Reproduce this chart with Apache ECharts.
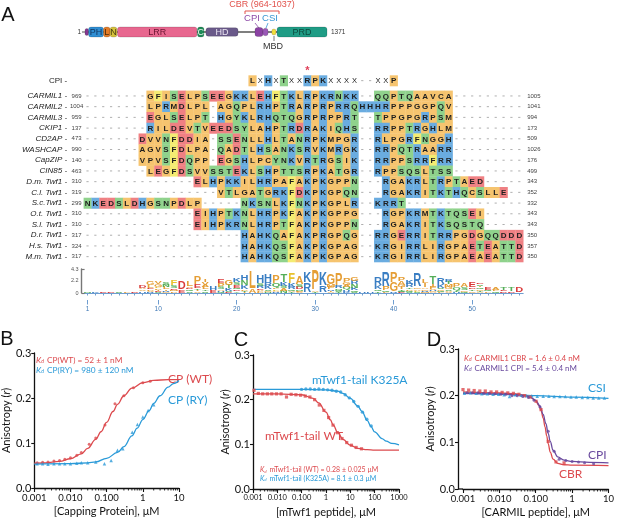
<!DOCTYPE html>
<html>
<head>
<meta charset="utf-8">
<script src="https://cdn.jsdelivr.net/npm/echarts@6/dist/echarts.min.js"></script>
<style>
  html, body { margin: 0; padding: 0; background: #fff; }
  #main { width: 617px; height: 519px; }
</style>
</head>
<body>
<div id="main"></div>
<script>
// ---------- A: domain map (schematic residue positions) ----------
const proteinLength = 1371;
const domainLabels = ['', 'PH', 'L', 'N', 'LRR', 'C', 'HD', 'CPI', 'CSI', 'MBD', 'PRD'];
const domainStart = [0, 20, 105, 142, 184, 637, 685, 963, 1008, 1058, 1088];
const domainEnd = [20, 105, 142, 181, 634, 674, 867, 1008, 1037, 1082, 1371];

// ---------- A: alignment ----------
const seqNames = ['CARMIL1', 'CARMIL2', 'CARMIL3', 'CKIP1', 'CD2AP', 'WASHCAP', 'CapZIP', 'CIN85',
  'D.m. Twf1', 'C.l. Twf1', 'S.c.Twf1', 'O.t. Twf1', 'S.l. Twf1', 'D.r. Twf1', 'H.s. Twf1', 'M.m. Twf1'];
const seqStartNum = [969, 1004, 959, 137, 473, 990, 140, 463, 310, 319, 299, 310, 310, 317, 324, 317];
const seqEndNum = [1005, 1041, 994, 173, 509, 1026, 176, 499, 343, 352, 332, 343, 343, 350, 357, 350];
const gap = n => '-'.repeat(n);
const seqRows = [
  gap(8) + 'GFISELPSEEGKKLEHFTKLRPKRNKK' + gap(2) + 'QQPTQAAVCA' + gap(9),
  gap(8) + 'LPRMDLPL' + gap(1) + 'AGQPLRHPTRARPRPRRQHHHRPPPGGPQV' + gap(9),
  gap(8) + 'EGLSELPT' + gap(1) + 'HGYKLRHQTQGRPRPPRT' + gap(2) + 'TPPGPGRPSM' + gap(9),
  gap(8) + 'RILDEVTVEEDSYLAHPTRDRAKIQHS' + gap(2) + 'RRPPTRGHLM' + gap(9),
  gap(7) + 'DVVNFDDIA' + gap(1) + 'SSENLLHLTANRPKMPGR' + gap(2) + 'RLPGRFNGGH' + gap(9),
  gap(7) + 'AGVSFDLPA' + gap(1) + 'QADTLHSANKSRVKMRGK' + gap(2) + 'RRPQTRAARR' + gap(9),
  gap(7) + 'VPVSFDQPP' + gap(1) + 'EGSHLPCYNKVRTRGSIK' + gap(2) + 'RRPPSRRFRR' + gap(9),
  gap(8) + 'LEGFDSVVSSTEKLSHPTTSRPKATGR' + gap(2) + 'RPPSQSLTSS' + gap(9),
  gap(14) + 'ELHPKKILHRPAFAKPKGPPN' + gap(3) + 'RGAKRLTRPTAED' + gap(5),
  gap(17) + 'VTLGATGRKFDKPKGPQN' + gap(3) + 'RGAKRITKTHQCSLLE' + gap(2),
  'NKEDSLDHGSNPDLP' + gap(5) + 'NKSNLKFNKPKGPLR' + gap(2) + 'KRRT' + gap(15),
  gap(14) + 'EIHPTKNLHRPKFAKPKGPPG' + gap(3) + 'RGPKRMTKTQSEI' + gap(5),
  gap(14) + 'EIHPKRNLHRPTFAKPKGPPN' + gap(3) + 'RGAKRITKSQSTQ' + gap(5),
  gap(20) + 'HAHKQAFAKPRGPQG' + gap(2) + 'RRGERRITRRPGDGQQDDD',
  gap(20) + 'HAHKQSFAKPKGPAG' + gap(2) + 'KRGIRRLIRGPAETEATTD',
  gap(20) + 'HAHKQSFAKPKGPAG' + gap(2) + 'KRGIRRLIRGPAEAEATTD'
];
const cpiMotif = ' '.repeat(21) + 'LXHXTXXRPKXXXX--XXP' + ' '.repeat(16);
const starCol = 29;

// sequence logo, per column: letter + height in bits (top to bottom)
const logoStacks = [
  'N.3', 'K.3', 'E.3', 'D.3', 'S.3', 'L.3', 'D.3', 'D.35 A.3 V.3 H.3',
  'G.6 L.4 E.25 P.25 V.2 R.2', 'V.5 G.45 F.25 P.25 I.2 E.2 S.15', 'S.4 N.4 L.4 I.2 R.2 G.2',
  'F1 S.5 D.3 M.25 P.25', 'D1.5 E.5', 'L1 V.3 D.3 Q.3 S.3', 'P1.3 E.7 T.3 I.25 V.25',
  'I.5 V.5 A.4 L.4 T.3 S.3', 'H.6 E.4', 'E.7 P.7 S.4 A.2 H.2 Q.2', 'G.9 T.6 K.4 S.2 D.2',
  'K.7 S.5 E.5 Q.3 D.3 Y.3', 'H.9 N.9 K.7 P.2 T.2 I.2', 'L3 A.6', 'H1.4 S.4 R.4 E.2 A.2 L.2 P.2',
  'H1.3 R.6 K.6 S.2 G.2 N.2', 'P1.4 Q.8 L.3 F.2 A.2 R.2', 'T1.4 K.6 S.4 A.4 N.4',
  'F2 K.6 R.4 Q.2 A.2 T.2', 'A1.4 S.4 D.4 N.3 L.1 G.1 V.1', 'K1.9 R1.7', 'P3.5 A.15 T.15',
  'K2.3 R1.1', 'G2 M.4 P.4 R.2 I.2 A.2', 'P2.2 R.4 N.2 Q.2 S.2 T.2', 'P.6 G.5 A.4 Q.4 H.2 R.2 K.2',
  'G.8 R.6 N.6 K.5 Q.2 S.2', 'H.2', 'H.2', 'R1.4 K.6 Q.3 T.3', 'R2.6 P.6 Q.2 L.2', 'P1.8 G1.6 R.2',
  'P.6 A.6 G.4 I.4 T.3 S.1 Q.1 E.1', 'K.8 R.6 T.3 P.3 Q.2 S.2', 'R2.4 G.3 A.2 F.2 S.2',
  'L.8 I.7 A.3 G.3 R.3 M.1', 'T1.3 I.4 P.4 V.2 H.2 G.2 A.1', 'R1.2 K.6 S.3 C.2 Q.2 L.2',
  'R.5 T.4 M.4 G.4 S.3 A.2 V.2', 'P.6 Q.5 T.3 H.2', 'A.7 S.5 G.3 Q.2', 'E1 D.3 T.3 C.3',
  'D.3 S.3 I.3 Q.3 G.3 T.2 A.2', 'E.5 Q.25 L.25', 'A.5 L.25 Q.25', 'T.5 E.25 D.25', 'T.6 D.3', 'D1'
];
const logoXLabels = [1, 10, 20, 30, 40, 50];
const logoYTicks = [0, 2.2, 4.3];

// ---------- B ----------
const bWtX = [0.0012, 0.0017, 0.0024, 0.0035, 0.005, 0.007, 0.01, 0.015, 0.02, 0.033, 0.05, 0.09, 0.17, 0.3, 0.55, 1.0, 1.6];
const bWtY = [0.056, 0.057, 0.058, 0.060, 0.061, 0.064, 0.067, 0.073, 0.079, 0.097, 0.111, 0.140, 0.187, 0.205, 0.223, 0.234, 0.237];
const bRyX = [0.0012, 0.0017, 0.0024, 0.0035, 0.005, 0.007, 0.01, 0.015, 0.02, 0.03, 0.05, 0.087, 0.133, 0.2, 0.28, 0.51, 0.71, 1.0, 1.4, 2.0];
const bRyY = [0.054, 0.054, 0.053, 0.054, 0.054, 0.054, 0.054, 0.055, 0.056, 0.056, 0.058, 0.054, 0.061, 0.084, 0.087, 0.124, 0.141, 0.158, 0.172, 0.185];
const bWtFitX = [0.001, 0.002, 0.005, 0.01, 0.02, 0.03, 0.05, 0.07, 0.1, 0.15, 0.2, 0.3, 0.5, 1, 2, 5, 10];
const bWtFitY = [0.055, 0.056, 0.059, 0.065, 0.076, 0.088, 0.108, 0.125, 0.146, 0.17, 0.186, 0.205, 0.222, 0.234, 0.239, 0.241, 0.241];
const bRyFitX = [0.001, 0.01, 0.03, 0.05, 0.1, 0.2, 0.3, 0.5, 0.7, 1, 1.5, 2, 3, 5, 7, 10];
const bRyFitY = [0.053, 0.054, 0.056, 0.058, 0.066, 0.079, 0.092, 0.116, 0.133, 0.152, 0.172, 0.188, 0.205, 0.224, 0.232, 0.239];

// ---------- C ----------
const cWtX = [0.0011, 0.00166, 0.0025, 0.0039, 0.0059, 0.0092, 0.0143, 0.0238, 0.037, 0.058, 0.09, 0.14, 0.218, 0.34, 0.53, 0.82, 1.28, 1.94, 2.93, 4.56, 7.1, 11.1, 17.3, 28.7];
const cWtY = [0.221, 0.214, 0.213, 0.213, 0.213, 0.213, 0.213, 0.206, 0.212, 0.211, 0.210, 0.208, 0.206, 0.200, 0.188, 0.176, 0.160, 0.143, 0.126, 0.113, 0.104, 0.098, 0.093, 0.090];
const cMutX = [0.099, 0.149, 0.225, 0.34, 0.51, 0.77, 1.17, 1.76, 2.66, 4.0, 6.1, 9.1, 13.8, 20.8, 31.5, 47.5, 71.8];
const cMutY = [0.223, 0.224, 0.224, 0.223, 0.224, 0.223, 0.222, 0.221, 0.219, 0.217, 0.211, 0.204, 0.196, 0.185, 0.172, 0.156, 0.141];
const cWtFitX = [0.001, 0.01, 0.1, 0.3, 0.5, 1, 1.5, 2, 3, 5, 10, 20, 50, 100, 1000];
const cWtFitY = [0.213, 0.213, 0.211, 0.203, 0.193, 0.172, 0.155, 0.143, 0.127, 0.111, 0.098, 0.091, 0.088, 0.087, 0.087];
const cMutFitX = [0.001, 0.1, 1, 3, 5, 10, 20, 30, 50, 70, 100, 200, 300, 500, 1000];
const cMutFitY = [0.223, 0.223, 0.222, 0.219, 0.214, 0.203, 0.186, 0.174, 0.153, 0.140, 0.128, 0.113, 0.107, 0.102, 0.099];

// ---------- D ----------
const dCbrX = [0.001, 0.00143, 0.00203, 0.0029, 0.0041, 0.0059, 0.0084, 0.0119, 0.017, 0.0243, 0.0345, 0.049, 0.07, 0.102, 0.14, 0.22, 0.36, 0.6];
const dCbrY = [0.213, 0.212, 0.211, 0.210, 0.210, 0.208, 0.208, 0.207, 0.206, 0.205, 0.203, 0.200, 0.197, 0.188, 0.170, 0.102, 0.058, 0.056];
const dCpiX = [0.0013, 0.0018, 0.0026, 0.0037, 0.0053, 0.0075, 0.011, 0.015, 0.022, 0.031, 0.044, 0.063, 0.09, 0.13, 0.22, 0.32, 0.44, 0.67, 1.0, 1.5, 2.2, 3.9];
const dCpiY = [0.206, 0.206, 0.206, 0.205, 0.205, 0.204, 0.203, 0.203, 0.200, 0.200, 0.198, 0.196, 0.190, 0.176, 0.124, 0.081, 0.064, 0.061, 0.059, 0.058, 0.056, 0.054];
const dCsiX = [0.0011, 0.0016, 0.0023, 0.0033, 0.0047, 0.0067, 0.0095, 0.0135, 0.019, 0.027, 0.039, 0.055, 0.078, 0.11, 0.16, 0.23, 0.32, 0.46, 0.65, 0.93, 1.3, 1.9, 2.7, 3.8, 5.4, 7.7];
const dCsiY = [0.205, 0.206, 0.205, 0.204, 0.204, 0.203, 0.203, 0.202, 0.198, 0.202, 0.201, 0.200, 0.200, 0.199, 0.199, 0.199, 0.198, 0.198, 0.198, 0.197, 0.197, 0.196, 0.196, 0.195, 0.195, 0.195];
const dCbrFitX = [0.001, 0.01, 0.03, 0.05, 0.07, 0.1, 0.12, 0.14, 0.16, 0.18, 0.2, 0.22, 0.25, 0.3, 0.4, 0.6, 1, 10];
const dCbrFitY = [0.208, 0.206, 0.204, 0.201, 0.197, 0.189, 0.180, 0.168, 0.152, 0.133, 0.114, 0.097, 0.079, 0.064, 0.055, 0.052, 0.051, 0.050];
const dCpiFitX = [0.001, 0.01, 0.03, 0.05, 0.07, 0.1, 0.13, 0.16, 0.19, 0.22, 0.25, 0.3, 0.4, 0.6, 1, 3, 10];
const dCpiFitY = [0.205, 0.204, 0.202, 0.200, 0.197, 0.190, 0.178, 0.160, 0.140, 0.119, 0.102, 0.083, 0.069, 0.062, 0.059, 0.057, 0.056];
const dCsiFitX = [0.001, 0.01, 0.1, 1, 10];
const dCsiFitY = [0.206, 0.203, 0.200, 0.197, 0.194];

const xTickLabels = ['0.001', '0.010', '0.100', '1', '10', '100', '1000'];
const yTickLabels = ['0.0', '0.1', '0.2', '0.3'];

// ---------- styles ----------
const SANS = '"Liberation Sans", Arial, sans-serif';
const PF = 'Lato, "Noto Sans", sans-serif';
const RED = '#DC4A4E', BLUE = '#2A9AD8', PURPLE = '#6A4A9E', INK = '#111';
const domainFill = ['#84388F', '#2F8ED3', '#E27B28', '#D6C23C', '#E8678F', '#1E8B57', '#6A5A8A', '#8B42A3', '#9A58B6', '#F2DE3C', '#1F9C85'];
const domainTextColor = [null, '#10335c', '#4a2a0a', '#4a4212', '#6a1532', '#e8f5ec', '#ece6f3', null, null, null, '#0b4a3e'];
const domainHeight = [0.7, 1, 1, 1, 1, 1, 0.85, 0.9, 0.75, 0.6, 1];
const boxColor = { o: '#F6C46F', b: '#6AACE0', g: '#8FD28C', r: '#EF8083', y: '#F4EC72' };
const logoInk = { o: '#E59E35', b: '#3A7EC3', g: '#55AE58', r: '#DA3B3B', y: '#E8C22E' };
const resGroup = ch => 'AVLIMPGCW'.includes(ch) ? 'o' : 'KRH'.includes(ch) ? 'b' : 'STNQY'.includes(ch) ? 'g' : 'DE'.includes(ch) ? 'r' : ch === 'F' ? 'y' : null;

const chart = echarts.init(document.getElementById('main'));

function renderDomain(params, api) {
  const i = params.dataIndex;
  const a = api.coord([domainStart[i], 0.5]);
  const b = api.coord([domainEnd[i], 0.5]);
  const h = api.size([0, 1])[1] * domainHeight[i];
  const kids = [{
    type: 'rect',
    shape: { x: a[0], y: a[1] - h / 2, width: b[0] - a[0], height: h, r: 2.5 },
    style: { fill: domainFill[i], stroke: 'rgba(0,0,0,0.25)', lineWidth: 0.6 }
  }];
  if (domainTextColor[i]) {
    kids.push({
      type: 'text', x: (a[0] + b[0]) / 2, y: a[1] + 0.5,
      style: { text: domainLabels[i], fill: domainTextColor[i], font: '9px ' + SANS, align: 'center', verticalAlign: 'middle' }
    });
  }
  return { type: 'group', children: kids };
}

function cellItem(ch, c, w, h) {
  if (ch === '-') {
    return { type: 'line', shape: { x1: c[0] - 1.1, y1: c[1], x2: c[0] + 1.1, y2: c[1] }, style: { stroke: '#9a9a9a', lineWidth: 0.8 } };
  }
  const g = resGroup(ch);
  const kids = [];
  if (g) kids.push({ type: 'rect', shape: { x: c[0] - w / 2, y: c[1] - h / 2, width: w + 0.3, height: h + 0.3 }, style: { fill: boxColor[g] } });
  kids.push({ type: 'text', x: c[0], y: c[1] + 0.5, style: { text: ch, fill: '#1d1d1d', font: 'bold 8px ' + SANS, align: 'center', verticalAlign: 'middle' } });
  return { type: 'group', children: kids };
}

const alnCells = [];
seqRows.forEach((row, r) => { for (let c = 0; c < row.length; c++) alnCells.push([c + 1, r, row[c]]); });
const cpiCells = [];
for (let c = 0; c < cpiMotif.length; c++) if (cpiMotif[c] !== ' ') cpiCells.push([c + 1, 0, cpiMotif[c]]);

function renderAln(cells) {
  return function (params, api) {
    const d = cells[params.dataIndex];
    const c = api.coord([d[0], d[1]]);
    const w = api.size([1, 0])[0];
    const h = api.size([0, 1])[1];
    if (cells === cpiCells && d[2] === 'X') {
      return { type: 'text', x: c[0], y: c[1] + 0.5, style: { text: 'X', fill: '#222', font: '7.5px ' + SANS, align: 'center', verticalAlign: 'middle' } };
    }
    const item = cellItem(d[2], c, w, h);
    if (cells === cpiCells && d[0] === starCol) {
      return { type: 'group', children: [item, { type: 'text', x: c[0], y: c[1] - 9.5, style: { text: '*', fill: '#E0405A', font: 'bold 11px ' + SANS, align: 'center', verticalAlign: 'middle' } }] };
    }
    return item;
  };
}

function renderLogo(params, api) {
  const col = params.dataIndex + 1;
  const stack = logoStacks[params.dataIndex].split(' ').map(t => [t[0], parseFloat(t.slice(1))]);
  const w = api.size([1, 0])[0];
  const kids = [];
  let cum = 0;
  for (let k = stack.length - 1; k >= 0; k--) {
    const [ch, bits] = stack[k];
    const p0 = api.coord([col, cum]);
    const p1 = api.coord([col, cum + bits]);
    cum += bits;
    const hpx = p0[1] - p1[1];
    if (hpx < 0.3) continue;
    kids.push({
      type: 'text', x: p0[0], y: (p0[1] + p1[1]) / 2,
      scaleX: w * 0.95 / 13.5, scaleY: hpx / 14.4,
      style: { text: ch, fill: logoInk[resGroup(ch)], font: 'bold 20px ' + SANS, align: 'center', verticalAlign: 'middle' }
    });
  }
  return { type: 'group', children: kids };
}

function minorTicks(lo, hi) {
  const out = [];
  for (let e = lo; e < hi; e++) for (let k = 2; k <= 9; k++) out.push([k * Math.pow(10, e), 0]);
  return out;
}
function renderMinor(params, api) {
  const p = api.coord([api.value(0), 0]);
  return { type: 'line', shape: { x1: p[0], y1: p[1], x2: p[0], y2: p[1] + 2.5 }, style: { stroke: INK, lineWidth: 0.9 } };
}

const zip = (xs, ys) => xs.map((x, i) => [x, ys[i]]);

function logX(grid, lo, hi, name, labelSize, nameGap) {
  return {
    type: 'log', gridIndex: grid, min: Math.pow(10, lo), max: Math.pow(10, hi), logBase: 10,
    name: name, nameLocation: 'middle', nameGap: nameGap,
    nameTextStyle: { fontFamily: PF, fontSize: 11, color: INK },
    axisLine: { lineStyle: { color: INK, width: 1.3 } },
    axisTick: { length: 4, lineStyle: { color: INK, width: 1.1 } },
    axisLabel: { fontFamily: PF, fontSize: labelSize, color: INK, margin: 5,
      formatter: v => xTickLabels[Math.round(Math.log10(v)) + 3] },
    splitLine: { show: false }, minorTick: { show: false }
  };
}
function valY(grid, nameGap, offset) {
  return {
    type: 'value', gridIndex: grid, min: 0, max: 0.3, interval: 0.1, offset: offset || 0,
    name: 'Anisotropy ({i|r})', nameLocation: 'middle', nameGap: nameGap,
    nameTextStyle: { fontFamily: PF, fontSize: 11, color: INK, rich: { i: { fontFamily: PF, fontSize: 11, fontStyle: 'italic', color: INK } } },
    axisLine: { show: true, lineStyle: { color: INK, width: 1.3 } },
    axisTick: { show: true, length: 3, lineStyle: { color: INK, width: 1.1 } },
    axisLabel: { fontFamily: PF, fontSize: 11, color: INK, margin: 3, formatter: v => yTickLabels[Math.round(v * 10)] },
    splitLine: { show: false }
  };
}
function fitLine(x, y, grid, color) {
  return { type: 'line', xAxisIndex: grid, yAxisIndex: grid, data: zip(x, y), showSymbol: false, smooth: 0.4, smoothMonotone: 'x',
    lineStyle: { color: color, width: 1.3 }, itemStyle: { color: color }, z: 3, silent: true };
}
function dots(x, y, grid, color, symbol, size) {
  return { type: 'scatter', xAxisIndex: grid, yAxisIndex: grid, data: zip(x, y), symbol: symbol, symbolSize: size,
    itemStyle: { color: color }, z: 4, silent: true };
}
function kd(x, y, rest, color, size) {
  return {
    type: 'text', x: x, y: y, silent: true,
    style: {
      text: '{k|K}{d|d}' + rest, fill: color, font: size + 'px ' + PF, verticalAlign: 'middle',
      rich: {
        k: { fontFamily: PF, fontSize: size, fontStyle: 'italic', fill: color },
        d: { fontFamily: PF, fontSize: size * 0.62, fontStyle: 'italic', fill: color, verticalAlign: 'bottom', padding: [3, 1, 0, 0] }
      }
    }
  };
}
function label(x, y, text, color, size, align) {
  return { type: 'text', x: x, y: y, silent: true,
    style: { text: text, fill: color, font: size + 'px ' + PF, align: align || 'left', verticalAlign: 'middle' } };
}
function sansText(x, y, text, color, size, align) {
  return { type: 'text', x: x, y: y, silent: true,
    style: { text: text, fill: color, font: size + 'px ' + SANS, align: align || 'center', verticalAlign: 'middle' } };
}

const ALN = { left: 83.6, width: 439.6 };
const allCols = Array.from({ length: 56 }, (_, i) => i + 1);

const option = {
  animation: false,
  grid: [
    { left: 85, width: 242, top: 27, height: 10 },                    // 0 domains
    { left: ALN.left, width: ALN.width, top: 75.3, height: 10.7 },     // 1 CPI motif
    { left: ALN.left, width: ALN.width, top: 90.6, height: 171.4 },    // 2 alignment
    { left: ALN.left, width: ALN.width, top: 269, height: 24 },        // 3 logo
    { left: 33, top: 353, width: 146, height: 135 },                   // 4 B
    { left: 253, top: 355, width: 146, height: 135 },                  // 5 C
    { left: 463, top: 349, width: 149, height: 140 }                   // 6 D
  ],
  xAxis: [
    { type: 'value', gridIndex: 0, min: 0, max: proteinLength, show: false },
    { type: 'value', gridIndex: 1, min: 0.5, max: 56.5, show: false },
    { type: 'value', gridIndex: 2, min: 0.5, max: 56.5, show: false },
    { type: 'value', gridIndex: 3, min: 0.5, max: 56.5, offset: 7,
      axisLine: { lineStyle: { color: '#6E9DD0', width: 1 } },
      axisTick: { customValues: allCols, length: 2.5, lineStyle: { color: '#6E9DD0' } },
      axisLabel: { customValues: logoXLabels, fontFamily: SANS, fontSize: 6.5, color: '#3F78B5', margin: 6 },
      splitLine: { show: false } },
    { type: 'value', gridIndex: 3, min: 0.5, max: 56.5, offset: 7, position: 'bottom',
      axisLine: { show: false },
      axisTick: { customValues: logoXLabels, length: 4.5, lineStyle: { color: '#6E9DD0' } },
      axisLabel: { show: false }, splitLine: { show: false } },
    logX(4, -3, 1, '[Capping Protein], μM', 9.5, 18),
    logX(5, -3, 3, '[mTwf1 peptide], μM', 7.5, 18),
    logX(6, -3, 1, '[CARMIL peptide], μM', 9.5, 18)
  ],
  yAxis: [
    { type: 'value', gridIndex: 0, min: 0, max: 1, show: false },
    { type: 'category', gridIndex: 1, data: ['CPI'], inverse: true,
      axisLine: { show: false }, axisTick: { show: false },
      axisLabel: { margin: 0.5, formatter: v => '{n|' + v + ' -}{s|}',
        rich: { n: { fontFamily: SANS, fontSize: 8, color: '#222' }, s: { width: 13, padding: [0, 0, 0, 3] } } } },
    { type: 'category', gridIndex: 2, data: seqNames, inverse: true,
      axisLine: { show: false }, axisTick: { show: false },
      axisLabel: { margin: 0.5, interval: 0, formatter: (v, i) => '{n|' + v + ' -}{s|' + seqStartNum[i] + '}',
        rich: { n: { fontFamily: SANS, fontSize: 8, fontStyle: 'italic', color: '#222' },
                s: { fontFamily: SANS, fontSize: 6, color: '#444', width: 13, align: 'left', padding: [0, 0, 0, 3] } } } },
    { type: 'category', gridIndex: 2, data: seqNames, inverse: true, position: 'right',
      axisLine: { show: false }, axisTick: { show: false },
      axisLabel: { margin: 4, interval: 0, fontFamily: SANS, fontSize: 6, color: '#444', formatter: (v, i) => String(seqEndNum[i]) } },
    { type: 'value', gridIndex: 3, min: 0, max: 4.3, offset: 2,
      axisLine: { show: true, lineStyle: { color: '#777', width: 1.4 } },
      axisTick: { show: true, inside: true, customValues: [0, 4.3], length: 3, lineStyle: { color: '#777', width: 1.2 } },
      axisLabel: { customValues: logoYTicks, fontFamily: SANS, fontSize: 5.5, color: '#555', margin: 3,
        formatter: v => (v === 0 ? '0' : v.toFixed(1)) },
      splitLine: { show: false } },
    valY(4, 18),
    valY(5, 19),
    valY(6, 17, 5)
  ],
  series: [
    { type: 'line', xAxisIndex: 0, yAxisIndex: 0, data: [[0, 0.5], [proteinLength, 0.5]], showSymbol: false,
      lineStyle: { color: '#555', width: 1.4 }, silent: true, z: 1 },
    { type: 'custom', xAxisIndex: 0, yAxisIndex: 0, data: domainStart.map((s, i) => [s, 0.5]), renderItem: renderDomain, silent: true, z: 2 },
    { type: 'custom', xAxisIndex: 1, yAxisIndex: 1, data: cpiCells.map(d => [d[0], d[1]]), renderItem: renderAln(cpiCells), silent: true },
    { type: 'custom', xAxisIndex: 2, yAxisIndex: 2, data: alnCells.map(d => [d[0], d[1]]), renderItem: renderAln(alnCells), silent: true },
    { type: 'custom', xAxisIndex: 3, yAxisIndex: 4, data: allCols.map(c => [c, 0]), renderItem: renderLogo, silent: true },

    fitLine(bWtFitX, bWtFitY, 5, RED), dots(bWtX, bWtY, 5, RED, 'circle', 3),
    fitLine(bRyFitX, bRyFitY, 5, BLUE), dots(bRyX, bRyY, 5, BLUE, 'triangle', 3.5),
    { type: 'custom', xAxisIndex: 5, yAxisIndex: 5, data: minorTicks(-3, 1), renderItem: renderMinor, silent: true },

    fitLine(cWtFitX, cWtFitY, 6, RED), dots(cWtX, cWtY, 6, RED, 'rect', 3.2),
    fitLine(cMutFitX, cMutFitY, 6, BLUE), dots(cMutX, cMutY, 6, BLUE, 'circle', 3.4),
    { type: 'custom', xAxisIndex: 6, yAxisIndex: 6, data: minorTicks(-3, 3), renderItem: renderMinor, silent: true },

    fitLine(dCsiFitX, dCsiFitY, 7, BLUE), dots(dCsiX, dCsiY, 7, BLUE, 'triangle', 3.5),
    fitLine(dCbrFitX, dCbrFitY, 7, RED), dots(dCbrX, dCbrY, 7, RED, 'rect', 3.2),
    fitLine(dCpiFitX, dCpiFitY, 7, PURPLE), dots(dCpiX, dCpiY, 7, PURPLE, 'circle', 3),
    { type: 'custom', xAxisIndex: 7, yAxisIndex: 7, data: minorTicks(-3, 1), renderItem: renderMinor, silent: true }
  ],
  graphic: [
    // panel letters
    sansText(8, 15, 'A', INK, 20),
    sansText(7, 339, 'B', INK, 20),
    sansText(241, 340, 'C', INK, 20),
    sansText(434, 340, 'D', INK, 20),
    // domain map annotations
    sansText(81, 32, '1', '#333', 6.5, 'right'),
    { type: 'line', shape: { x1: 82, y1: 32, x2: 85, y2: 32 }, style: { stroke: '#555', lineWidth: 1 }, silent: true },
    sansText(331, 32, '1371', '#333', 6.5, 'left'),
    sansText(262, 5, 'CBR (964-1037)', '#E2534D', 9),
    { type: 'polyline', shape: { points: [[245, 14], [245, 11], [279, 11], [279, 14]] }, style: { stroke: '#E2534D', lineWidth: 1, fill: null }, silent: true },
    sansText(252, 18.5, 'CPI', '#8E4BA8', 9.5),
    sansText(270, 18.5, 'CSI', '#3897D3', 9.5),
    { type: 'line', shape: { x1: 255, y1: 23, x2: 259, y2: 28 }, style: { stroke: '#8E4BA8', lineWidth: 0.8 }, silent: true },
    { type: 'line', shape: { x1: 268, y1: 23, x2: 266, y2: 28 }, style: { stroke: '#3897D3', lineWidth: 0.8 }, silent: true },
    { type: 'line', shape: { x1: 274, y1: 36, x2: 274, y2: 41 }, style: { stroke: '#555', lineWidth: 0.8 }, silent: true },
    sansText(273, 46.5, 'MBD', '#333', 9),
    // B
    kd(36, 360, ' CP(WT) = 52 ± 1 nM', RED, 8.3),
    kd(36, 370, ' CP(RY) = 980 ± 120 nM', BLUE, 8.3),
    label(168, 379, 'CP (WT)', RED, 12),
    label(168, 400, 'CP (RY)', BLUE, 12),
    // C
    label(312, 380, 'mTwf1-tail K325A', BLUE, 12),
    label(265, 436, 'mTwf1-tail WT', RED, 12),
    kd(260, 470, ' mTwf1-tail (WT) = 0.28 ± 0.025 μM', RED, 7),
    kd(260, 478.5, ' mTwf1-tail (K325A) = 8.1 ± 0.3 μM', BLUE, 7),
    // D
    { type: 'line', shape: { x1: 458, y1: 489, x2: 463, y2: 489 }, style: { stroke: INK, lineWidth: 1.3 }, silent: true },
    kd(464, 358, ' CARMIL1 CBR = 1.6 ± 0.4 nM', RED, 8),
    kd(464, 368, ' CARMIL1 CPI = 5.4 ± 0.4 nM', PURPLE, 8),
    label(588, 388, 'CSI', BLUE, 12),
    label(588, 455, 'CPI', PURPLE, 12),
    label(559, 474, 'CBR', RED, 12)
  ]
};

chart.setOption(option);
</script>
</body>
</html>
